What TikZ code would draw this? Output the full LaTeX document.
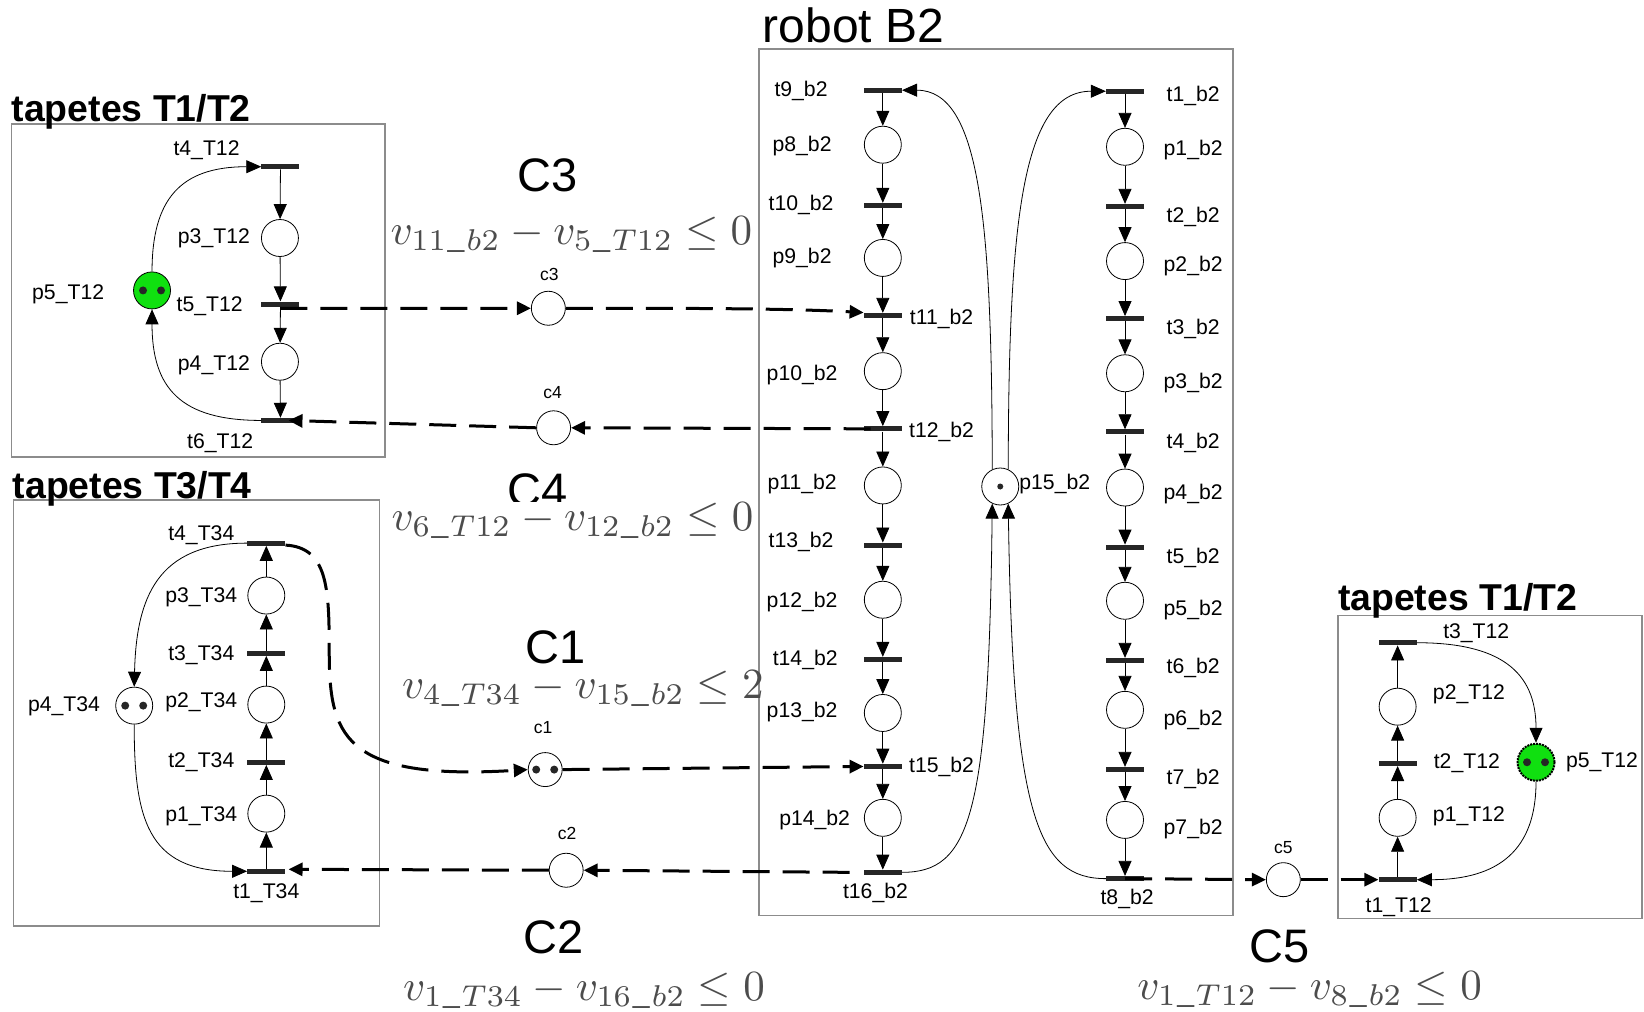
\documentclass[tikz,border=0pt]{standalone}
\usepackage{fontspec}
\usepackage{graphicx}
\setmainfont{Liberation Sans}
\usetikzlibrary{arrows.meta}
\definecolor{tokgreen}{RGB}{16,224,16}
\definecolor{eqgray}{gray}{0.3}
\newcommand{\us}{\mkern1mu\raisebox{1pt}{\scalebox{0.7}{\_}}\mkern1mu}
\tikzset{
  placenode/.style={circle,draw=black,fill=white,line width=0.8pt,minimum size=37pt,inner sep=0pt},
  greenplace/.style={placenode,fill=tokgreen},
  smallplace/.style={placenode,minimum size=34pt},
  barnode/.style={rectangle,fill=black!85,minimum width=38pt,minimum height=5pt,inner sep=0pt},
  lbl/.style={inner sep=0pt,yshift=-1.8pt,font=\fontsize{21.2}{23}\selectfont},
  clbl/.style={inner sep=0pt,font=\fontsize{17.5}{19}\selectfont},
  bigc/.style={inner sep=0pt,font=\fontsize{47}{50}\selectfont},
  boxtitle/.style={inner sep=0pt,anchor=west,yshift=-3pt,font=\fontsize{37.4}{40}\selectfont\bfseries},
  framebox/.style={draw=black!45,line width=1.6pt},
  eqn/.style={inner sep=0pt,text=eqgray,scale=4.3,anchor=base},
  arc/.style={line width=0.8pt,-{Triangle[length=15pt,width=13pt]}},
  ctrl/.style={line width=3pt,dash pattern=on 27pt off 13pt,-{Triangle[length=14pt,width=13pt]}},
  tok/.style={circle,fill=black!85,minimum size=8pt,inner sep=0pt}
}
\newcommand{\twotok}[2]{\node[tok] (#1a) at ([xshift=-9pt]#1) {};\node[tok] (#1b) at ([xshift=9pt]#1) {};}
\begin{document}
\begin{tikzpicture}[x=1.0485pt,y=-1.0485pt]
\useasboundingbox (0,0) rectangle (1568,965);
% frames
\draw[framebox] (11,118) rectangle (367,436);
\draw[framebox] (13,477) rectangle (362,883);
\draw[framebox] (724,47) rectangle (1176,873);
\draw[framebox] (1276,587) rectangle (1566,876);
% titles
\node[boxtitle] (ttA) at (11,104) {tapetes T1/T2};
\node[boxtitle] (ttB) at (12,463) {tapetes T3/T4};
\node[boxtitle] (ttC) at (1276,570) {tapetes T1/T2};
\node[inner sep=0pt,font=\fontsize{48}{50}\selectfont] (ttR) at (814,24) {robot B2};
% big constraint names
\node[bigc] (C3) at (522,167) {C3};
\begin{scope}
\clip (470,430) rectangle (560,478);
\node[bigc] (C4) at (513,468) {C4};
\end{scope}
\node[bigc] (C1) at (530,617) {C1};
\node[bigc] (C2) at (528,894) {C2};
\node[bigc] (C5) at (1220,903) {C5};
% inequalities
\node[eqn] (e3) at (545,233) {$v_{11\us b2}-v_{5\us T12}\leq 0$};
\node[eqn] (e4) at (546,506) {$v_{6\us T12}-v_{12\us b2}\leq 0$};
\node[eqn] (e1) at (556,666) {$v_{4\us T34}-v_{15\us b2}\leq 2$};
\node[eqn] (e2) at (557,954) {$v_{1\us T34}-v_{16\us b2}\leq 0$};
\node[eqn] (e5) at (1249,953) {$v_{1\us T12}-v_{8\us b2}\leq 0$};

% --- left T1/T2 net
\node[barnode] (at4) at (267.5,159) {};
\node[placenode] (ap3) at (267,227) {};
\node[barnode] (at5) at (267.5,290) {};
\node[placenode] (ap4) at (267,345) {};
\node[barnode] (at6) at (267.5,401) {};
\node[greenplace] (ap5) at (145,277) {};
\twotok{ap5}{}
\draw[arc] (at4) -- (ap3);
\draw[arc] (ap3) -- (at5);
\draw[arc] (at5) -- (ap4);
\draw[arc] (ap4) -- (at6);
\draw[arc] (ap5.north) .. controls (145,190) and (172,159) .. (at4.west);
\draw[arc] (at6.west) .. controls (172,401) and (145,370) .. (ap5.south);
\node[lbl] (lat4) at (197,142) {t4\_T12};
\node[lbl] (lap3) at (204,226) {p3\_T12};
\node[lbl] (lat5) at (200,290) {t5\_T12};
\node[lbl] (lap4) at (204,347) {p4\_T12};
\node[lbl] (lat6) at (210,421) {t6\_T12};
\node[lbl] (lap5) at (65,279) {p5\_T12};

% --- T3/T4 net
\node[barnode] (bt4) at (254,518) {};
\node[placenode] (bp3) at (254,568) {};
\node[barnode] (bt3) at (254,623) {};
\node[placenode] (bp2) at (254,672) {};
\node[barnode] (bt2) at (254,727) {};
\node[placenode] (bp1) at (254,776) {};
\node[barnode] (bt1) at (254,831) {};
\node[placenode] (bp4) at (128,673) {};
\twotok{bp4}{}
\draw[arc] (bt1) -- (bp1);
\draw[arc] (bp1) -- (bt2);
\draw[arc] (bt2) -- (bp2);
\draw[arc] (bp2) -- (bt3);
\draw[arc] (bt3) -- (bp3);
\draw[arc] (bp3) -- (bt4);
\draw[arc] (bt4.west) .. controls (150,518) and (130,570) .. (bp4.north);
\draw[arc] (bp4.south) .. controls (128,780) and (140,831) .. (bt1.west);
\node[lbl] (lbt4) at (192,509) {t4\_T34};
\node[lbl] (lbp3) at (192,568) {p3\_T34};
\node[lbl] (lbt3) at (192,623) {t3\_T34};
\node[lbl] (lbp2) at (192,668) {p2\_T34};
\node[lbl] (lbt2) at (192,725) {t2\_T34};
\node[lbl] (lbp1) at (192,777) {p1\_T34};
\node[lbl] (lbt1) at (254,850) {t1\_T34};
\node[lbl] (lbp4) at (61,672) {p4\_T34};

% --- robot, left column
\foreach \n/\y in {9/86,10/196,11/301,12/409,13/520,14/629,15/731,16/832}
  \node[barnode] (lt\n) at (842,\y) {};
\foreach \n/\y in {8/138,9/246,10/354,11/463,12/572,13/680,14/780}
  \node[placenode] (lp\n) at (842,\y) {};
\draw[arc] (lt9) -- (lp8);
\draw[arc] (lp8) -- (lt10);
\draw[arc] (lt10) -- (lp9);
\draw[arc] (lp9) -- (lt11);
\draw[arc] (lt11) -- (lp10);
\draw[arc] (lp10) -- (lt12);
\draw[arc] (lt12) -- (lp11);
\draw[arc] (lp11) -- (lt13);
\draw[arc] (lt13) -- (lp12);
\draw[arc] (lp12) -- (lt14);
\draw[arc] (lt14) -- (lp13);
\draw[arc] (lp13) -- (lt15);
\draw[arc] (lt15) -- (lp14);
\draw[arc] (lp14) -- (lt16);
\node[lbl] (llt9) at (764,85) {t9\_b2};
\node[lbl] (llp8) at (765,138) {p8\_b2};
\node[lbl] (llt10) at (764,194) {t10\_b2};
\node[lbl] (llp9) at (765,244) {p9\_b2};
\node[lbl] (llt11) at (898,302) {t11\_b2};
\node[lbl] (llp10) at (765,356) {p10\_b2};
\node[lbl] (llt12) at (898,410) {t12\_b2};
\node[lbl] (llp11) at (765,460) {p11\_b2};
\node[lbl] (llt13) at (764,515) {t13\_b2};
\node[lbl] (llp12) at (765,572) {p12\_b2};
\node[lbl] (llt14) at (768,628) {t14\_b2};
\node[lbl] (llp13) at (765,677) {p13\_b2};
\node[lbl] (llt15) at (898,730) {t15\_b2};
\node[lbl] (llp14) at (777,780) {p14\_b2};
\node[lbl] (llt16) at (835,850) {t16\_b2};

% --- robot, right column
\foreach \n/\y in {1/87,2/197,3/304,4/412,5/522,6/630,7/734,8/838}
  \node[barnode] (rt\n) at (1073,\y) {};
\foreach \n/\y in {1/140,2/249,3/356,4/465,5/573,6/677,7/782}
  \node[placenode] (rp\n) at (1073,\y) {};
\foreach \a/\b in {1/2,2/3,3/4,4/5,5/6,6/7,7/8}{
  \draw[arc] (rt\a) -- (rp\a);
  \draw[arc] (rp\a) -- (rt\b);
}
\node[lbl] (lrt1) at (1138,90) {t1\_b2};
\node[lbl] (lrp1) at (1138,141) {p1\_b2};
\node[lbl] (lrt2) at (1138,205) {t2\_b2};
\node[lbl] (lrp2) at (1138,252) {p2\_b2};
\node[lbl] (lrt3) at (1138,312) {t3\_b2};
\node[lbl] (lrp3) at (1138,364) {p3\_b2};
\node[lbl] (lrt4) at (1138,421) {t4\_b2};
\node[lbl] (lrp4) at (1138,469) {p4\_b2};
\node[lbl] (lrt5) at (1138,530) {t5\_b2};
\node[lbl] (lrp5) at (1138,580) {p5\_b2};
\node[lbl] (lrt6) at (1138,635) {t6\_b2};
\node[lbl] (lrp6) at (1138,685) {p6\_b2};
\node[lbl] (lrt7) at (1138,741) {t7\_b2};
\node[lbl] (lrp7) at (1138,789) {p7\_b2};
\node[lbl] (lrt8) at (1075,856) {t8\_b2};

% --- shared place of the robot
\node[placenode] (p15) at (954,464) {};
\node[tok,minimum size=6pt] (p15a) at (p15) {};
\node[lbl] (lp15) at (1006,460) {p15\_b2};
\draw[arc] (lt16.east) .. controls (925,832) and (943,780) .. (p15.-115);
\draw[arc] (p15.115) .. controls (946,210) and (935,86) .. (lt9.east);
\draw[arc] (p15.65) .. controls (962,210) and (975,87) .. (rt1.west);
\draw[arc] (rt8.west) .. controls (990,838) and (966,780) .. (p15.-65);

% --- right T1/T2 net
\node[barnode] (dt3) at (1333,613) {};
\node[placenode] (dp2) at (1333,674) {};
\node[barnode] (dt2) at (1333,728) {};
\node[placenode] (dp1) at (1333,780) {};
\node[barnode] (dt1) at (1333,839) {};
\node[greenplace,draw=black,line width=2pt,densely dotted] (dp5) at (1465,727) {};
\twotok{dp5}{}
\draw[arc] (dt1) -- (dp1);
\draw[arc] (dp1) -- (dt2);
\draw[arc] (dt2) -- (dp2);
\draw[arc] (dp2) -- (dt3);
\draw[arc] (dt3.east) .. controls (1430,613) and (1465,640) .. (dp5.north);
\draw[arc] (dp5.south) .. controls (1465,810) and (1430,839) .. (dt1.east);
\node[lbl] (ldt3) at (1408,602) {t3\_T12};
\node[lbl] (ldp2) at (1401,660) {p2\_T12};
\node[lbl] (ldt2) at (1399,726) {t2\_T12};
\node[lbl] (ldp1) at (1401,777) {p1\_T12};
\node[lbl] (ldt1) at (1334,864) {t1\_T12};
\node[lbl] (ldp5) at (1528,725) {p5\_T12};

% --- controller places
\node[smallplace] (c3) at (523,294) {};
\node[smallplace] (c4) at (528,408) {};
\node[smallplace] (c1) at (520,734) {};
\twotok{c1}{}
\node[smallplace] (c2) at (540,830) {};
\node[smallplace] (c5) at (1224,839) {};
\node[clbl] (lc3) at (524,262) {c3};
\node[clbl] (lc4) at (527,374) {c4};
\node[clbl] (lc1) at (518,694) {c1};
\node[clbl] (lc2) at (541,795) {c2};
\node[clbl] (lc5) at (1224,808) {c5};

% --- dashed control arcs
\draw[ctrl] ([yshift=-4.2pt]at5.center) -- (c3.west);
\draw[ctrl] (c3.east) .. controls (650,294) and (750,294) .. ([yshift=3pt]lt11.west);
\draw[ctrl] (lt12.east) ++(-30,0) -- (c4.east);
\draw[ctrl] (c4.west) -- ([xshift=8pt]at6.center);
\draw[ctrl] ([yshift=-2pt]bt4.east) .. controls (312,522) and (314,560) .. (314,620)
   .. controls (314,700) and (325,745) .. (c1.west);
\draw[ctrl] (c1.east) -- (lt15.west);
\draw[ctrl] ([xshift=-14pt]lt16.west) -- (c2.east);
\draw[ctrl] (c2.west) -- ([xshift=3pt,yshift=2pt]bt1.east);
\draw[ctrl] (rt8.center) -- (c5.west);
\draw[ctrl] (c5.east) -- (dt1.west);
\end{tikzpicture}
\end{document}
